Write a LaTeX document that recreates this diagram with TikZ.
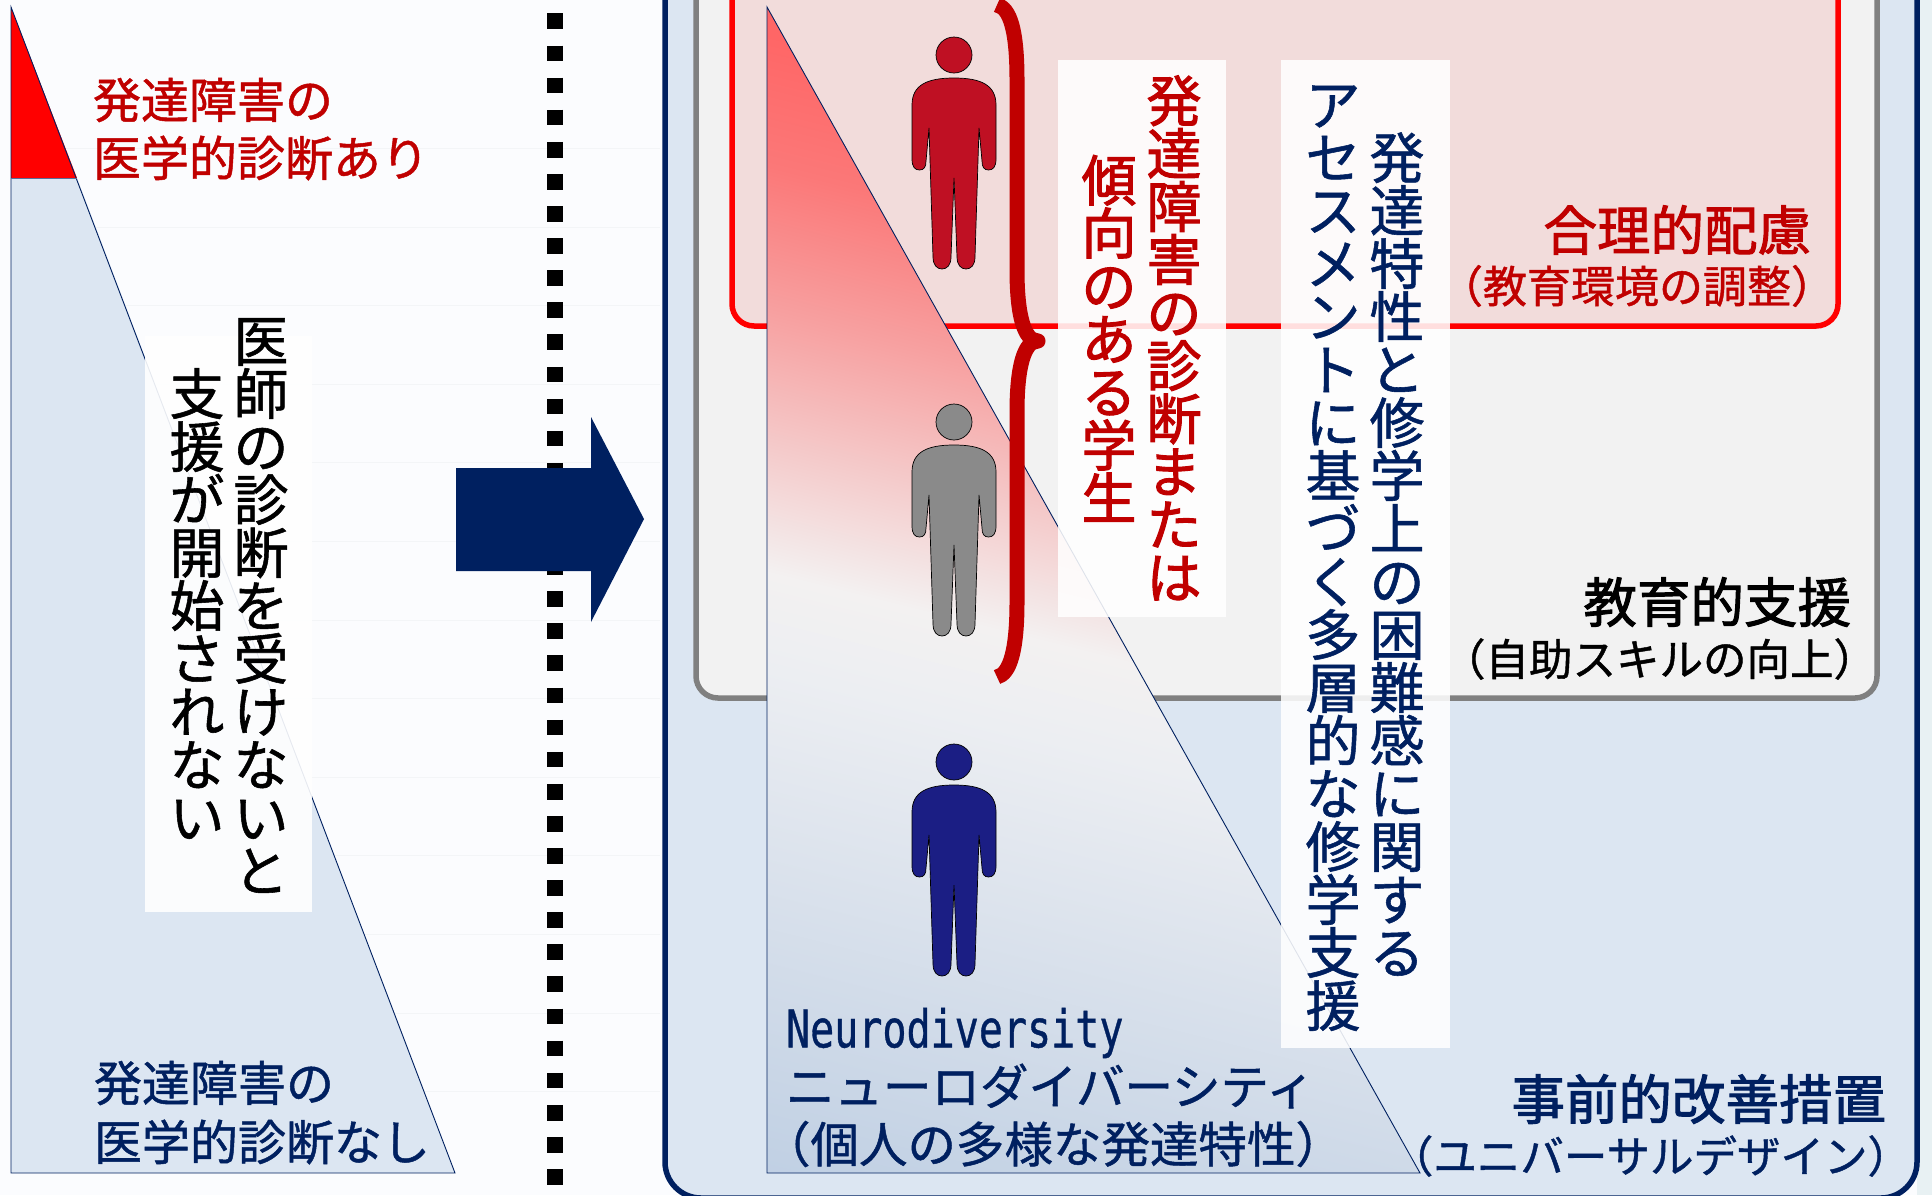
\documentclass[tikz,border=0pt]{standalone}
\usepackage{fontspec}
\setmainfont[FakeBold=1.0]{Noto Sans CJK JP}
\newfontfamily\jpbold[FakeBold=1.8]{Noto Sans CJK JP}
\newfontfamily\monofam[FakeBold=0.8]{DejaVu Sans Mono}
\definecolor{navy}{HTML}{002060}
\definecolor{dred}{HTML}{C00000}
\definecolor{panel}{HTML}{DCE6F2}
\definecolor{pagebg}{HTML}{FBFCFE}
\definecolor{faint}{HTML}{F3F5F7}
\definecolor{pinkbox}{HTML}{F2DCDB}
\definecolor{greybox}{HTML}{F2F2F2}
\definecolor{edgeright}{HTML}{E8F1F3}
\definecolor{manred}{HTML}{BF1023}
\definecolor{mangrey}{HTML}{8A8A8A}
\definecolor{manblue}{HTML}{1B1E84}
\pgfdeclareverticalshading{tribg}{100bp}{%
 color(0bp)=(rgb,255:red,191;green,207;blue,227);
 color(35bp)=(rgb,255:red,191;green,207;blue,227);
 color(46.5bp)=(rgb,255:red,236;green,238;blue,242);
 color(48.6bp)=(rgb,255:red,243;green,241;blue,241);
 color(51.2bp)=(rgb,255:red,244;green,205;blue,205);
 color(54.4bp)=(rgb,255:red,247;green,160;blue,160);
 color(57.6bp)=(rgb,255:red,251;green,120;blue,120);
 color(60.5bp)=(rgb,255:red,255;green,102;blue,102);
 color(100bp)=(rgb,255:red,255;green,102;blue,102)}
% vertical text: one upright character per line
\newdimen\vtp \newdimen\vtf \newdimen\vth \newdimen\vtd
\def\vtend{\vtend}
\def\vtloop#1{\ifx#1\vtend\else\hbox to \vtf{\hss\vrule height\vth depth\vtd width0pt #1\hss}\expandafter\vtloop\fi}
\newcommand\vtext[2]{\vtf=#1pt \vtp=53pt
 \vth=\vtp \advance\vth by -\vtf \divide\vth by 2 \vtd=\vth
 \advance\vth by .88\vtf \advance\vtd by .12\vtf
 \vbox{\offinterlineskip\fontsize{#1}{#1}\selectfont\vtloop#2\vtend}}
\tikzset{
 lbl/.style={inner sep=0pt,outer sep=0pt},
 pics/person/.style={code={
  \fill[#1,draw=black,line width=.7pt] (0,18) circle (18);
  \fill[#1,draw=black,line width=.7pt]
   (0,41) .. controls (27,41) and (42,48) .. (42,68) -- (42,122)
   .. controls (42,130) and (39,133) .. (34.5,133) .. controls (30,133) and (28,130) .. (28,124)
   -- (25,91) -- (21,220) .. controls (21,228) and (17,232) .. (12,232)
   .. controls (7,232) and (3,228) .. (3,220) -- (0,141) -- (-3,220)
   .. controls (-3,228) and (-7,232) .. (-12,232) .. controls (-17,232) and (-21,228) .. (-21,220)
   -- (-25,91) -- (-28,124) .. controls (-28,130) and (-30,133) .. (-34.5,133)
   .. controls (-39,133) and (-42,130) .. (-42,122) -- (-42,68)
   .. controls (-42,48) and (-27,41) .. (0,41) -- cycle;
 }}
}
\begin{document}
\begin{tikzpicture}[x=1pt,y=-1pt]
\useasboundingbox (0,0) rectangle (1932,1195);
\fill[pagebg] (0,0) rectangle (1932,1195);
\fill[edgeright] (1917,0) rectangle (1932,1195);
% faint rules
\foreach \yy in {148,227,305,384,462,541,620,698,777,855,934,1013,1091}
  \draw[faint,line width=1pt] (60,\yy) -- (660,\yy);
% left triangle
\fill[panel] (11,178) -- (77,178) -- (455,1173) -- (11,1173) -- cycle;
\fill[red] (11,7) -- (77,178) -- (11,178) -- cycle;
\draw[navy,line width=.9pt] (11,7) -- (455,1173) -- (11,1173) -- cycle;
\draw[navy!60!panel,line width=.7pt] (11,178) -- (77,178);
% dotted divider
\coordinate (divtop) at (555,13.4);
\coordinate (divbot) at (555,1185);
\draw[black,line width=16pt,dash pattern=on 15.7pt off 16.4pt] (divtop) -- (divbot);
% big arrow
\fill[navy] (456,468) -- (591,468) -- (591,417) -- (644,519) -- (591,622) -- (591,571) -- (456,571) -- cycle;
% nested boxes
\draw[navy,line width=5.5pt,fill=panel,rounded corners=36pt] (665,-60) rectangle (1917,1198);
\draw[black!50,line width=5.5pt,fill=greybox,rounded corners=22pt] (696,-60) rectangle (1877,698);
\draw[red,line width=5.5pt,fill=pinkbox,rounded corners=22pt] (732,-60) rectangle (1838,326);
% right triangle
\begin{scope}
 \clip (767,7) -- (1420,1173) -- (767,1173) -- cycle;
 \shade[shading=tribg,shading angle=-14] (-10,-510) rectangle (2190,1690);
\end{scope}
\draw[navy,line width=.9pt] (767,7) -- (1420,1173) -- (767,1173) -- cycle;
% persons
\pic at (954,37) {person=manred};
\pic at (954,404) {person=mangrey};
\pic at (954,744) {person=manblue};
% brace
\draw[dred,line width=15pt,line join=round] (997,5) .. controls (1010,8) and (1017,30) .. (1017,80)
 -- (1017,270) .. controls (1017,315) and (1024,341) .. (1038,341)
 .. controls (1024,341) and (1017,367) .. (1017,412) -- (1017,602)
 .. controls (1017,650) and (1010,674) .. (997,677);
% translucent text panels
\fill[white,fill opacity=.9] (145,336) rectangle (312,912);
\fill[white,fill opacity=.87] (1058,60) rectangle (1226,617);
\fill[white,fill opacity=.87] (1281,60) rectangle (1450,1048);
% vertical text
\node[lbl] (v1) at (261,605.5) {\vtext{55}{医師の診断を受けないと}};
\node[lbl] (v2) at (197,605.5) {\vtext{55}{支援が開始されない}};
\node[lbl,text=dred] (v3) at (1174,339) {\jpbold\vtext{55}{発達障害の診断または}};
\node[lbl,text=dred] (v4) at (1109,339) {\jpbold\vtext{55}{傾向のある学生}};
\node[lbl,text=navy] (v5) at (1333,555) {\vtext{55}{アセスメントに基づく多層的な修学支援}};
\node[lbl,text=navy] (v6) at (1397,555) {\vtext{55}{発達特性と修学上の困難感に関する}};
% horizontal text
\node[lbl,anchor=west,text=dred,font=\fontsize{48}{48}\selectfont] (t1) at (93,100) {発達障害の};
\node[lbl,anchor=west,text=dred,font=\fontsize{48}{48}\selectfont] (t2) at (93,158) {医学的診断あり};
\node[lbl,anchor=west,text=navy,font=\fontsize{48}{48}\selectfont] (t3) at (94,1083) {発達障害の};
\node[lbl,anchor=west,text=navy,font=\fontsize{48}{48}\selectfont] (t4) at (94,1142) {医学的診断なし};
\node[lbl,anchor=east,text=dred,font=\jpbold\fontsize{53.5}{53.5}\selectfont] (t5) at (1811,230) {合理的配慮};
\node[lbl,anchor=east,text=dred,font=\fontsize{44}{44}\selectfont] (t6) at (1835,286) {（教育環境の調整）};
\node[lbl,anchor=east,text=black,font=\jpbold\fontsize{53.5}{53.5}\selectfont] (t7) at (1851,602) {教育的支援};
\node[lbl,anchor=east,text=black,font=\fontsize{43.5}{43.5}\selectfont] (t8) at (1877,659) {（自助スキルの向上）};
\node[lbl,anchor=east,text=navy,font=\jpbold\fontsize{53.5}{53.5}\selectfont] (t9) at (1886,1099) {事前的改善措置};
\node[lbl,anchor=east,text=navy,font=\fontsize{43.5}{43.5}\selectfont] (t10) at (1911,1156) {（ユニバーサルデザイン）};
\node[lbl,anchor=west,text=navy,font=\monofam\fontsize{52}{52}\selectfont] (t11) at (786,1033) {\scalebox{.77}[1]{Neurodiversity}};
\node[lbl,anchor=west,text=navy,font=\fontsize{48.5}{48.5}\selectfont] (t12) at (786,1086) {ニューロダイバーシティ};
\node[lbl,anchor=west,text=navy,font=\fontsize{48.5}{48.5}\selectfont] (t13) at (762,1144) {（個人の多様な発達特性）};
\end{tikzpicture}
\end{document}
